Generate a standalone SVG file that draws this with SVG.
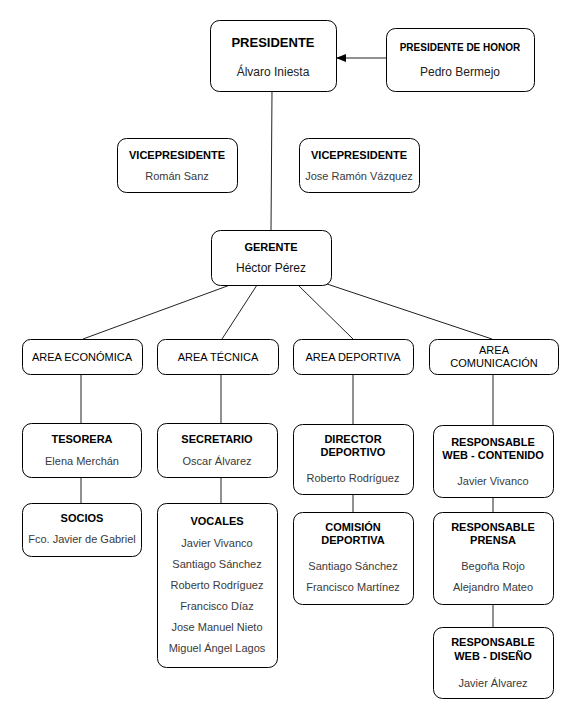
<svg xmlns="http://www.w3.org/2000/svg" width="579" height="720" viewBox="0 0 579 720">
  <style>
    .box { fill: #ffffff; stroke: #000000; stroke-width: 1; }
    .edge { fill: none; stroke: #222222; stroke-width: 1; }
    text { font-family: "Liberation Sans", Arial, Helvetica, sans-serif; text-anchor: middle; }
    .t { font-size: 11px; font-weight: bold; fill: #000000; }
    .n { font-size: 11px; fill: #3a3a3a; }
    .a { font-size: 11px; fill: #000000; }
  </style>
  <defs>
    <marker id="arrow" markerWidth="10" markerHeight="8" refX="9" refY="4" orient="auto" markerUnits="userSpaceOnUse">
      <path d="M0,0 L10,4 L0,8 Z" fill="#000000"/>
    </marker>
  </defs>
  <rect width="579" height="720" fill="#ffffff"/>

  <g id="connectors">
    <line class="edge" x1="386" y1="58" x2="337" y2="58" marker-end="url(#arrow)"/>
    <line class="edge" x1="272" y1="91" x2="271" y2="230"/>
    <line class="edge" x1="230" y1="285" x2="83" y2="339"/>
    <line class="edge" x1="257" y1="285" x2="222" y2="339"/>
    <line class="edge" x1="298" y1="285" x2="353" y2="339"/>
    <line class="edge" x1="327" y1="284" x2="492" y2="339"/>
    <line class="edge" x1="81" y1="374" x2="81" y2="423"/>
    <line class="edge" x1="81" y1="477" x2="81" y2="503"/>
    <line class="edge" x1="221" y1="374" x2="221" y2="423"/>
    <line class="edge" x1="221" y1="477" x2="221" y2="503"/>
    <line class="edge" x1="353" y1="374" x2="353" y2="424"/>
    <line class="edge" x1="353" y1="494" x2="353" y2="512"/>
    <line class="edge" x1="493" y1="374" x2="493" y2="425"/>
    <line class="edge" x1="493" y1="497" x2="493" y2="512"/>
    <line class="edge" x1="493" y1="604" x2="493" y2="627"/>
  </g>

  <g id="presidente">
    <rect class="box" x="210.5" y="20.5" width="126" height="71" rx="9"/>
    <text x="273" y="47" style="font-size:13px;font-weight:bold">PRESIDENTE</text>
    <text x="273" y="76" style="font-size:12px;fill:#222">Álvaro Iniesta</text>
  </g>

  <g id="presidente-honor">
    <rect class="box" x="386.5" y="28.5" width="148" height="63" rx="9"/>
    <text x="460" y="51" style="font-size:10px;font-weight:bold">PRESIDENTE DE HONOR</text>
    <text x="460" y="76" style="font-size:12px;fill:#222">Pedro Bermejo</text>
  </g>

  <g id="vicepresidente-1">
    <rect class="box" x="117.5" y="138.5" width="120" height="54" rx="9"/>
    <text class="t" x="177" y="159">VICEPRESIDENTE</text>
    <text class="n" x="177" y="180">Román Sanz</text>
  </g>

  <g id="vicepresidente-2">
    <rect class="box" x="299.5" y="138.5" width="120" height="54" rx="9"/>
    <text class="t" x="359" y="159">VICEPRESIDENTE</text>
    <text class="n" x="359" y="180">Jose Ramón Vázquez</text>
  </g>

  <g id="gerente">
    <rect class="box" x="211.5" y="230.5" width="120" height="55" rx="9"/>
    <text class="t" x="271" y="251">GERENTE</text>
    <text x="271" y="272" style="font-size:12px;fill:#111">Héctor Pérez</text>
  </g>

  <g id="area-economica">
    <rect class="box" x="22.5" y="339.5" width="120" height="35" rx="8"/>
    <text class="a" x="82" y="361">AREA ECONÓMICA</text>
  </g>

  <g id="area-tecnica">
    <rect class="box" x="157.5" y="339.5" width="121" height="35" rx="8"/>
    <text class="a" x="218" y="361">AREA TÉCNICA</text>
  </g>

  <g id="area-deportiva">
    <rect class="box" x="293.5" y="339.5" width="120" height="35" rx="8"/>
    <text class="a" x="353" y="361">AREA DEPORTIVA</text>
  </g>

  <g id="area-comunicacion">
    <rect class="box" x="429.5" y="339.5" width="129" height="35" rx="8"/>
    <text class="a" x="494" y="354">AREA</text>
    <text class="a" x="494" y="367">COMUNICACIÓN</text>
  </g>

  <g id="tesorera">
    <rect class="box" x="22.5" y="423.5" width="119" height="54" rx="9"/>
    <text class="t" x="82" y="443">TESORERA</text>
    <text class="n" x="82" y="465">Elena Merchán</text>
  </g>

  <g id="socios">
    <rect class="box" x="22.5" y="503.5" width="119" height="53" rx="9"/>
    <text class="t" x="82" y="522">SOCIOS</text>
    <text class="n" x="82" y="543">Fco. Javier de Gabriel</text>
  </g>

  <g id="secretario">
    <rect class="box" x="157.5" y="423.5" width="120" height="54" rx="9"/>
    <text class="t" x="217" y="443">SECRETARIO</text>
    <text class="n" x="217" y="465">Oscar Álvarez</text>
  </g>

  <g id="vocales">
    <rect class="box" x="157.5" y="503.5" width="120" height="164" rx="9"/>
    <text class="t" x="217" y="525">VOCALES</text>
    <text class="n" x="217" y="547">Javier Vivanco</text>
    <text class="n" x="217" y="568">Santiago Sánchez</text>
    <text class="n" x="217" y="589">Roberto Rodríguez</text>
    <text class="n" x="217" y="610">Francisco Díaz</text>
    <text class="n" x="217" y="631">Jose Manuel Nieto</text>
    <text class="n" x="217" y="652">Miguel Ángel Lagos</text>
  </g>

  <g id="director-deportivo">
    <rect class="box" x="293.5" y="424.5" width="120" height="70" rx="9"/>
    <text class="t" x="353" y="443">DIRECTOR</text>
    <text class="t" x="353" y="456">DEPORTIVO</text>
    <text class="n" x="353" y="482">Roberto Rodríguez</text>
  </g>

  <g id="comision-deportiva">
    <rect class="box" x="293.5" y="512.5" width="120" height="92" rx="9"/>
    <text class="t" x="353" y="531">COMISIÓN</text>
    <text class="t" x="353" y="544">DEPORTIVA</text>
    <text class="n" x="353" y="570">Santiago Sánchez</text>
    <text class="n" x="353" y="591">Francisco Martínez</text>
  </g>

  <g id="responsable-web-contenido">
    <rect class="box" x="433.5" y="425.5" width="120" height="72" rx="9"/>
    <text class="t" x="493" y="446">RESPONSABLE</text>
    <text class="t" x="493" y="459">WEB - CONTENIDO</text>
    <text class="n" x="493" y="485">Javier Vivanco</text>
  </g>

  <g id="responsable-prensa">
    <rect class="box" x="433.5" y="512.5" width="120" height="92" rx="9"/>
    <text class="t" x="493" y="531">RESPONSABLE</text>
    <text class="t" x="493" y="544">PRENSA</text>
    <text class="n" x="493" y="570">Begoña Rojo</text>
    <text class="n" x="493" y="591">Alejandro Mateo</text>
  </g>

  <g id="responsable-web-diseno">
    <rect class="box" x="433.5" y="627.5" width="120" height="71" rx="9"/>
    <text class="t" x="493" y="646">RESPONSABLE</text>
    <text class="t" x="493" y="660">WEB - DISEÑO</text>
    <text class="n" x="493" y="687">Javier Álvarez</text>
  </g>
</svg>
